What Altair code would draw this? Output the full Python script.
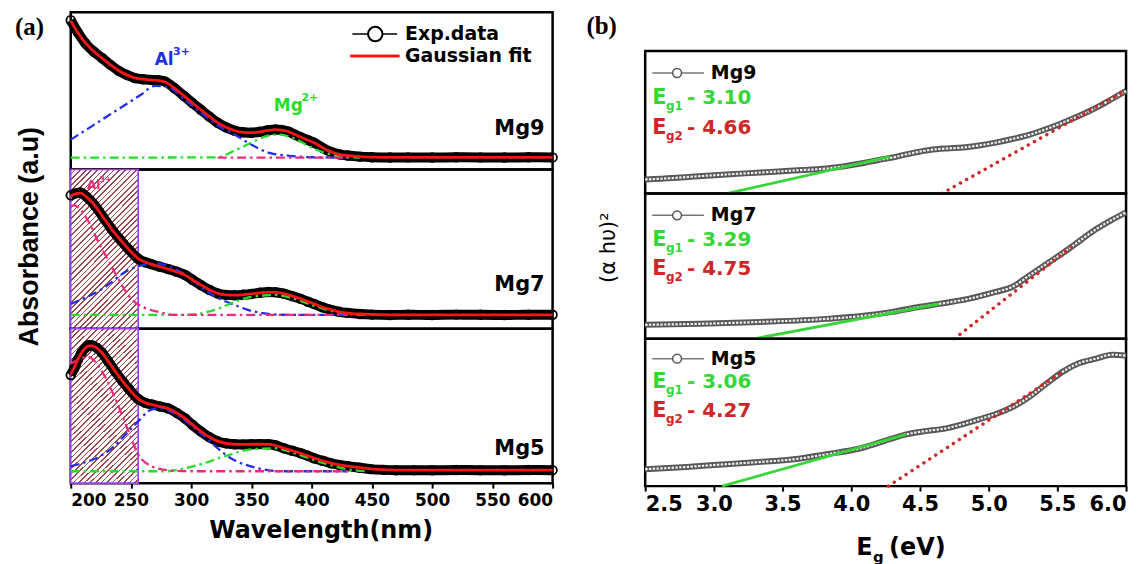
import altair as alt
import pandas as pd

FONT = "DejaVu Sans"
SERIF = "Liberation Serif"

# ---------------- panel (a): absorbance (arbitrary units, 0..1 per sub-panel) ----------------
MG9_WL = [200, 206, 212, 219, 226, 233, 240, 247, 253, 260, 267, 273, 278, 286, 294, 301, 308, 315, 322, 329,
          336, 343, 350, 357, 364, 370, 375, 381, 386, 391, 397, 402, 409, 416, 423, 430, 440, 450, 465, 480,
          500, 520, 540, 560, 580, 600]
MG9_EXP = [0.949, 0.87, 0.804, 0.75, 0.709, 0.665, 0.627, 0.60, 0.582, 0.574, 0.570, 0.567, 0.560, 0.518, 0.468,
           0.423, 0.380, 0.337, 0.297, 0.268, 0.247, 0.237, 0.234, 0.240, 0.250, 0.254, 0.252, 0.240, 0.222, 0.205,
           0.187, 0.171, 0.138, 0.112, 0.097, 0.089, 0.082, 0.078, 0.076, 0.077, 0.076, 0.078, 0.077, 0.076, 0.078,
           0.077]
MG9_FIT = [0.945, 0.87, 0.806, 0.752, 0.708, 0.666, 0.628, 0.600, 0.583, 0.574, 0.569, 0.565, 0.558, 0.517, 0.468,
           0.423, 0.380, 0.338, 0.298, 0.268, 0.247, 0.236, 0.234, 0.240, 0.249, 0.253, 0.251, 0.240, 0.222, 0.205,
           0.186, 0.170, 0.139, 0.112, 0.097, 0.089, 0.082, 0.079, 0.077, 0.077, 0.077, 0.077, 0.077, 0.077, 0.077,
           0.077]
MG9_BLUE_WL = [200, 215, 230, 245, 258, 270, 282, 295, 308, 322, 336, 350, 364, 380, 400, 430]
MG9_BLUE = [0.190, 0.263, 0.337, 0.41, 0.474, 0.532, 0.52, 0.44, 0.361, 0.28, 0.222, 0.158, 0.108, 0.089, 0.078, 0.076]
MG9_GREEN_WL = [200, 250, 300, 322, 336, 350, 364, 372, 386, 400, 416, 430, 440]
MG9_GREEN = [0.076, 0.076, 0.077, 0.078, 0.12, 0.171, 0.215, 0.222, 0.196, 0.139, 0.095, 0.078, 0.076]
MG9_PINK_WL = [322, 360, 400, 430]
MG9_PINK = [0.076, 0.076, 0.076, 0.076]

MG7_WL = [200, 204, 208, 213, 220, 227, 234, 241, 248, 256, 262, 267, 274, 281, 288, 295, 301, 308, 315, 322,
          329, 336, 343, 350, 357, 364, 370, 377, 384, 391, 397, 402, 409, 416, 423, 430, 440, 450, 465, 480,
          500, 520, 540, 560, 580, 600]
MG7_EXP = [0.838, 0.850, 0.856, 0.830, 0.775, 0.700, 0.625, 0.560, 0.500, 0.440, 0.418, 0.406, 0.390, 0.375, 0.358,
           0.338, 0.308, 0.275, 0.245, 0.222, 0.213, 0.211, 0.214, 0.219, 0.226, 0.231, 0.230, 0.221, 0.205, 0.188,
           0.170, 0.156, 0.135, 0.119, 0.107, 0.100, 0.093, 0.089, 0.087, 0.088, 0.087, 0.089, 0.088, 0.087, 0.088,
           0.088]
MG7_FIT = [0.834, 0.848, 0.852, 0.828, 0.774, 0.700, 0.626, 0.561, 0.500, 0.441, 0.418, 0.405, 0.390, 0.374, 0.357,
           0.337, 0.308, 0.276, 0.246, 0.223, 0.213, 0.211, 0.214, 0.219, 0.225, 0.230, 0.229, 0.221, 0.205, 0.188,
           0.171, 0.157, 0.136, 0.120, 0.107, 0.099, 0.093, 0.090, 0.088, 0.088, 0.088, 0.088, 0.088, 0.088, 0.088,
           0.088]
MG7_PINK_WL = [200, 203, 209, 216, 223, 232, 240, 247, 253, 262, 273, 286, 320, 380, 430]
MG7_PINK = [0.77, 0.775, 0.74, 0.656, 0.544, 0.419, 0.306, 0.219, 0.169, 0.13, 0.106, 0.0875, 0.0875, 0.0875, 0.0875]
MG7_BLUE_WL = [200, 226, 248, 264, 272, 282, 295, 308, 322, 336, 350, 364, 380, 430]
MG7_BLUE = [0.156, 0.25, 0.369, 0.406, 0.41, 0.39, 0.34, 0.2625, 0.194, 0.15, 0.1125, 0.094, 0.0875, 0.0875]
MG7_GREEN_WL = [200, 250, 298, 310, 322, 336, 350, 369, 386, 400, 416, 430, 445]
MG7_GREEN = [0.0875, 0.0875, 0.0875, 0.10, 0.125, 0.169, 0.20, 0.2125, 0.1875, 0.15, 0.1125, 0.094, 0.0875]

MG5_WL = [200, 203, 206, 209, 212, 215, 218, 222, 226, 231, 237, 243, 248, 256, 262, 267, 274, 281, 288, 295,
          301, 308, 315, 322, 329, 336, 343, 350, 357, 364, 370, 377, 384, 391, 397, 402, 409, 416, 423, 430,
          440, 449, 460, 470, 485, 500, 520, 540, 560, 580, 600]
MG5_EXP = [0.700, 0.745, 0.800, 0.845, 0.875, 0.893, 0.892, 0.875, 0.845, 0.790, 0.723, 0.660, 0.613, 0.545, 0.520,
           0.510, 0.497, 0.484, 0.455, 0.419, 0.378, 0.335, 0.298, 0.271, 0.258, 0.252, 0.251, 0.252, 0.253, 0.252,
           0.245, 0.226, 0.210, 0.194, 0.177, 0.161, 0.145, 0.129, 0.118, 0.110, 0.100, 0.091, 0.086, 0.084, 0.084,
           0.083, 0.085, 0.084, 0.083, 0.085, 0.084]
MG5_FIT = [0.705, 0.750, 0.802, 0.845, 0.874, 0.890, 0.890, 0.874, 0.845, 0.791, 0.724, 0.661, 0.614, 0.546, 0.520,
           0.509, 0.496, 0.483, 0.455, 0.419, 0.379, 0.336, 0.299, 0.272, 0.258, 0.252, 0.251, 0.252, 0.252, 0.251,
           0.244, 0.226, 0.210, 0.194, 0.177, 0.162, 0.145, 0.130, 0.118, 0.110, 0.100, 0.092, 0.087, 0.085, 0.084,
           0.084, 0.084, 0.084, 0.084, 0.084, 0.084]
MG5_PINK_WL = [200, 203, 214, 226, 237, 248, 256, 267, 280, 300, 360, 430]
MG5_PINK = [0.774, 0.787, 0.819, 0.723, 0.548, 0.335, 0.187, 0.110, 0.084, 0.077, 0.077, 0.077]
MG5_BLUE_WL = [200, 234, 248, 256, 267, 275, 290, 308, 333, 355, 375, 430]
MG5_BLUE = [0.110, 0.226, 0.335, 0.40, 0.477, 0.484, 0.432, 0.323, 0.161, 0.097, 0.077, 0.077]
MG5_GREEN_WL = [200, 250, 281, 295, 308, 333, 350, 369, 386, 400, 416, 430, 445]
MG5_GREEN = [0.077, 0.077, 0.077, 0.097, 0.123, 0.187, 0.219, 0.226, 0.194, 0.155, 0.116, 0.090, 0.077]

HATCH_WL = [200, 256]

# ---------------- panel (b): Tauc plots ----------------
EV9 = [2.50, 2.70, 2.86, 3.09, 3.34, 3.58, 3.82, 4.07, 4.20, 4.30, 4.45, 4.57, 4.70, 4.81, 4.93, 5.05, 5.18, 5.30,
       5.42, 5.54, 5.66, 5.78, 5.90, 6.00]
V9 = [0.098, 0.108, 0.119, 0.133, 0.147, 0.161, 0.175, 0.210, 0.235, 0.252, 0.285, 0.305, 0.316, 0.322, 0.337, 0.357,
      0.384, 0.413, 0.452, 0.497, 0.546, 0.601, 0.665, 0.720]
EV7 = [2.50, 2.90, 3.34, 3.82, 4.09, 4.30, 4.50, 4.64, 4.85, 5.05, 5.17, 5.30, 5.44, 5.54, 5.63, 5.78, 5.90, 6.00]
V7 = [0.096, 0.103, 0.116, 0.137, 0.158, 0.185, 0.220, 0.240, 0.274, 0.322, 0.356, 0.438, 0.527, 0.590, 0.651, 0.753,
      0.820, 0.870]
EV5 = [2.50, 2.80, 3.09, 3.35, 3.58, 3.82, 4.07, 4.30, 4.40, 4.55, 4.69, 4.80, 4.93, 5.10, 5.20, 5.30, 5.42, 5.54,
       5.66, 5.78, 5.90, 6.00]
V5 = [0.115, 0.130, 0.149, 0.165, 0.182, 0.216, 0.257, 0.324, 0.351, 0.375, 0.392, 0.418, 0.453, 0.507, 0.550, 0.608,
      0.695, 0.777, 0.835, 0.865, 0.892, 0.885]

# tangent lines: [start eV, end eV], [start value, end value]
G9_E, G9_V = [3.10, 4.28], [0.0, 0.259]
R9_E, R9_V = [4.66, 6.00], [0.0, 0.725]
G7_E, G7_V = [3.29, 4.64], [0.0, 0.240]
R7_E, R7_V = [4.75, 5.63], [0.0, 0.651]
G5_E, G5_V = [3.06, 4.40], [0.0, 0.351]
R5_E, R5_V = [4.27, 5.54], [0.0, 0.777]
EG_TEXT = {"Mg9": ("3.10", "4.66"), "Mg7": ("3.29", "4.75"), "Mg5": ("3.06", "4.27")}

# ---------------- styles ----------------
BLUE = "#1f2fe6"
GREEN_A = "#27de27"
PINK = "#f0287f"
RED = "#ff1414"
GREEN_B = "#36d636"
RED_B = "#d12626"
HATCH_LINE = "#9a4a4a"
HATCH_EDGE = "#9b3cf0"

XA = alt.Scale(domain=[200, 600], nice=False, zero=False)
XB = alt.Scale(domain=[2.5, 6.0], nice=False, zero=False)
YS = alt.Scale(domain=[0, 1], nice=False, zero=False)

AX_A = alt.Axis(values=[200, 250, 300, 350, 400, 450, 500, 550, 600], format="d", labelFont=FONT,
                labelFontWeight="bold", labelFontSize=17, labelColor="black", labelPadding=4, tickSize=5,
                tickWidth=2, tickColor="black", domain=False, grid=False, title="Wavelength(nm)",
                titleFont=FONT, titleFontSize=24, titleFontWeight="bold", titleColor="black",
                titleX=251, titleY=48, titleAlign="center", titleBaseline="middle")
AX_B = alt.Axis(values=[2.5, 3.0, 3.5, 4.0, 4.5, 5.0, 5.5, 6.0], format=".1f", labelFont=FONT,
                labelFontWeight="bold", labelFontSize=21, labelColor="black", labelPadding=2, tickSize=5,
                tickWidth=2, tickColor="black", domain=False, grid=False, title="")
AY_A = alt.Axis(labels=False, ticks=False, domain=False, grid=False, title="Absorbance (a.u)",
                titleFont="Liberation Sans", titleFontSize=27, titleFontWeight="bold", titleColor="black",
                titleAngle=270, titleAlign="center", titleBaseline="middle", titleX=-41, titleY=67)
AY_B = alt.Axis(labels=False, ticks=False, domain=False, grid=False, title="(α hυ)²",
                titleFont=FONT, titleFontSize=21, titleFontWeight="normal", titleColor="black",
                titleAngle=270, titleAlign="center", titleBaseline="middle", titleX=-37, titleY=54)

# diagonal hatch built as a striped linear gradient
stops = []
N = 42
for i in range(N):
    a, b, c = i / N, (i + 0.7) / N, (i + 1) / N
    stops += [alt.GradientStop(color="white", offset=a), alt.GradientStop(color="white", offset=b),
              alt.GradientStop(color=HATCH_LINE, offset=b), alt.GradientStop(color=HATCH_LINE, offset=c)]
HATCH_FILL = alt.LinearGradient(gradient="linear", stops=stops, x1=0, y1=0, x2=0.53, y2=1.25)


def enc(xscale, xaxis, yaxis):
    def X(f):
        return alt.X(f, type="quantitative", scale=xscale, axis=xaxis)

    def Y(f):
        return alt.Y(f, type="quantitative", scale=YS, axis=yaxis)
    return X, Y


def label(x, y, s, X, Y, color="black", size=19, weight="bold", font=FONT, align="left", dy=0):
    df = pd.DataFrame({"x": [x], "y": [y], "t": [s]})
    return alt.Chart(df).mark_text(align=align, baseline="middle", color=color, fontSize=size,
                                   fontWeight=weight, font=font, dy=dy).encode(x=X("x"), y=Y("y"), text="t:N")


def hline(x0, x1, y, X, Y, color, width):
    df = pd.DataFrame({"x0": [x0], "x1": [x1], "y": [y]})
    return alt.Chart(df).mark_rule(color=color, strokeWidth=width).encode(x=X("x0"), x2=alt.X2("x1"), y=Y("y"))


def dot(x, y, X, Y, stroke, size, width):
    df = pd.DataFrame({"x": [x], "y": [y]})
    return alt.Chart(df).mark_circle(color="white", opacity=1, stroke=stroke, strokeWidth=width,
                                     size=size).encode(x=X("x"), y=Y("y"))


def panel_a(name, wl, exp, fit, comps, height, tag_y, show_x=False, ytitle=False, hatch=False, extras=()):
    X, Y = enc(XA, AX_A if show_x else None, AY_A if ytitle else None)
    d = pd.DataFrame({"wl": wl, "exp": exp, "fit": fit})
    layers = []
    if hatch:
        hd = pd.DataFrame({"x0": [HATCH_WL[0]], "x1": [HATCH_WL[1]], "y0": [0.0], "y1": [1.0]})
        layers.append(alt.Chart(hd).mark_rect(fill=HATCH_FILL, stroke=HATCH_EDGE, strokeWidth=1.6).encode(
            x=X("x0"), x2=alt.X2("x1"), y=Y("y0"), y2=alt.Y2("y1")))
    base = alt.Chart(d)
    layers.append(base.mark_line(color="black", strokeWidth=10, interpolate="monotone").encode(
        x=X("wl"), y=Y("exp")))
    layers.append(base.mark_point(shape="circle", filled=False, color="black", size=75, strokeWidth=1.8,
                                  opacity=1).encode(x=X("wl"), y=Y("exp")))
    cd = pd.concat([pd.DataFrame({"wl": w, "v": v, "c": c}) for c, (w, v) in comps.items()])
    layers.append(alt.Chart(cd).mark_line(strokeWidth=2.3, strokeDash=[9, 4, 2.5, 4], interpolate="monotone").encode(
        x=X("wl"), y=Y("v"), detail="c:N",
        color=alt.Color("c:N", scale=alt.Scale(domain=["blue", "green", "pink"], range=[BLUE, GREEN_A, PINK]),
                        legend=None)))
    layers.append(base.mark_line(color=RED, strokeWidth=2.8, interpolate="monotone").encode(
        x=X("wl"), y=Y("fit")))
    layers.append(label(593.4, tag_y, name, X, Y, size=21, align="right"))
    layers += [f(X, Y) for f in extras]
    return alt.layer(*layers).properties(width=484, height=height)


def panel_b(name, ev, val, ge, gv, re_, rv, height, rows, show_x=False, ytitle=False, extras=()):
    X, Y = enc(XB, AX_B if show_x else None, AY_B if ytitle else None)
    d = pd.DataFrame({"e": ev, "v": val})
    base = alt.Chart(d)
    layers = [
        base.mark_line(color="#585858", strokeWidth=6, interpolate="monotone").encode(x=X("e"), y=Y("v")),
        base.mark_line(color="#ededed", strokeWidth=2.2, strokeDash=[2.4, 1.4], interpolate="monotone").encode(
            x=X("e"), y=Y("v")),
        alt.Chart(pd.DataFrame({"e": ge, "v": gv})).mark_line(color=GREEN_B, strokeWidth=2.8).encode(
            x=X("e"), y=Y("v")),
        alt.Chart(pd.DataFrame({"e": re_, "v": rv})).mark_line(color=RED_B, strokeWidth=3.4, strokeDash=[0.1, 7],
                                                               strokeCap="round").encode(x=X("e"), y=Y("v")),
        hline(2.551, 2.928, rows[0], X, Y, "#777777", 1.5),
        dot(2.732, rows[0], X, Y, "#555555", 80, 1.5),
        label(2.978, rows[0], name, X, Y, size=19),
        label(2.551, rows[1], "E", X, Y, color=GREEN_B, size=21),
        label(2.652, rows[1], "g1", X, Y, color=GREEN_B, size=12, dy=8),
        label(2.804, rows[1], "- " + EG_TEXT[name][0], X, Y, color=GREEN_B, size=20),
        label(2.551, rows[2], "E", X, Y, color=RED_B, size=21),
        label(2.652, rows[2], "g2", X, Y, color=RED_B, size=12, dy=8),
        label(2.804, rows[2], "- " + EG_TEXT[name][1], X, Y, color=RED_B, size=20),
    ]
    layers += [f(X, Y) for f in extras]
    return alt.layer(*layers).properties(width=483, height=height)


a9 = panel_a("Mg9", MG9_WL, MG9_EXP, MG9_FIT,
             {"blue": (MG9_BLUE_WL, MG9_BLUE), "green": (MG9_GREEN_WL, MG9_GREEN), "pink": (MG9_PINK_WL, MG9_PINK)},
             158, 0.259,
             extras=(
                 lambda X, Y: label(153.8, 0.905, "(a)", X, Y, size=25, font=SERIF),
                 lambda X, Y: label(269.7, 0.696, "Al", X, Y, color=BLUE, size=17),
                 lambda X, Y: label(285.0, 0.696, "3+", X, Y, color=BLUE, size=11, dy=-8),
                 lambda X, Y: label(368.6, 0.405, "Mg", X, Y, color=GREEN_A, size=17),
                 lambda X, Y: label(391.5, 0.405, "2+", X, Y, color=GREEN_A, size=11, dy=-8),
                 lambda X, Y: hline(433.8, 471.0, 0.861, X, Y, "black", 1.5),
                 lambda X, Y: dot(452.8, 0.861, X, Y, "black", 210, 2),
                 lambda X, Y: label(477.5, 0.861, "Exp.data", X, Y, size=19),
                 lambda X, Y: hline(432.0, 473.0, 0.722, X, Y, RED, 3),
                 lambda X, Y: label(477.5, 0.722, "Gaussian fit", X, Y, size=19),
             ))
a7 = panel_a("Mg7", MG7_WL, MG7_EXP, MG7_FIT,
             {"blue": (MG7_BLUE_WL, MG7_BLUE), "green": (MG7_GREEN_WL, MG7_GREEN), "pink": (MG7_PINK_WL, MG7_PINK)},
             160, 0.275, ytitle=True, hatch=True,
             extras=(
                 lambda X, Y: label(213.6, 0.90, "Al", X, Y, color=PINK, size=12),
                 lambda X, Y: label(223.8, 0.90, "3+", X, Y, color=PINK, size=8, dy=-5),
             ))
a5 = panel_a("Mg5", MG5_WL, MG5_EXP, MG5_FIT,
             {"blue": (MG5_BLUE_WL, MG5_BLUE), "green": (MG5_GREEN_WL, MG5_GREEN), "pink": (MG5_PINK_WL, MG5_PINK)},
             155, 0.219, show_x=True, hatch=True)

b9 = panel_b("Mg9", EV9, V9, G9_E, G9_V, R9_E, R9_V, 143, [0.846, 0.671, 0.462])
b7 = panel_b("Mg7", EV7, V7, G7_E, G7_V, R7_E, R7_V, 146, [0.849, 0.678, 0.479], ytitle=True)
b5 = panel_b("Mg5", EV5, V5, G5_E, G5_V, R5_E, R5_V, 148, [0.865, 0.709, 0.507], show_x=True,
             extras=(
                 lambda X, Y: label(4.036, -0.419, "E", X, Y, size=24),
                 lambda X, Y: label(4.159, -0.419, "g", X, Y, size=15, dy=9),
                 lambda X, Y: label(4.275, -0.419, "(eV)", X, Y, size=24),
             ))

spacer = alt.Chart(pd.DataFrame({"x": [2.072], "y": [0.64], "t": ["(b)"]})).mark_text(
    align="left", baseline="middle", font=SERIF, fontSize=25, fontWeight="bold", color="black").encode(
    x=alt.X("x:Q", scale=XB, axis=None), y=alt.Y("y:Q", scale=YS, axis=None), text="t:N").properties(
    width=483, height=39, view=alt.ViewBackground(strokeOpacity=0))

colA = alt.vconcat(a9, a7, a5, spacing=0, bounds="flush")
colB = alt.vconcat(spacer, b9, b7, b5, spacing=0, bounds="flush")

chart = alt.hconcat(colA, colB, spacing=11,
                    padding={"left": 5, "top": -11, "right": 0, "bottom": 0}).configure_view(
    stroke="black", strokeWidth=2.5)

chart.save("out.html", embed_options={"renderer": "svg", "actions": False})
